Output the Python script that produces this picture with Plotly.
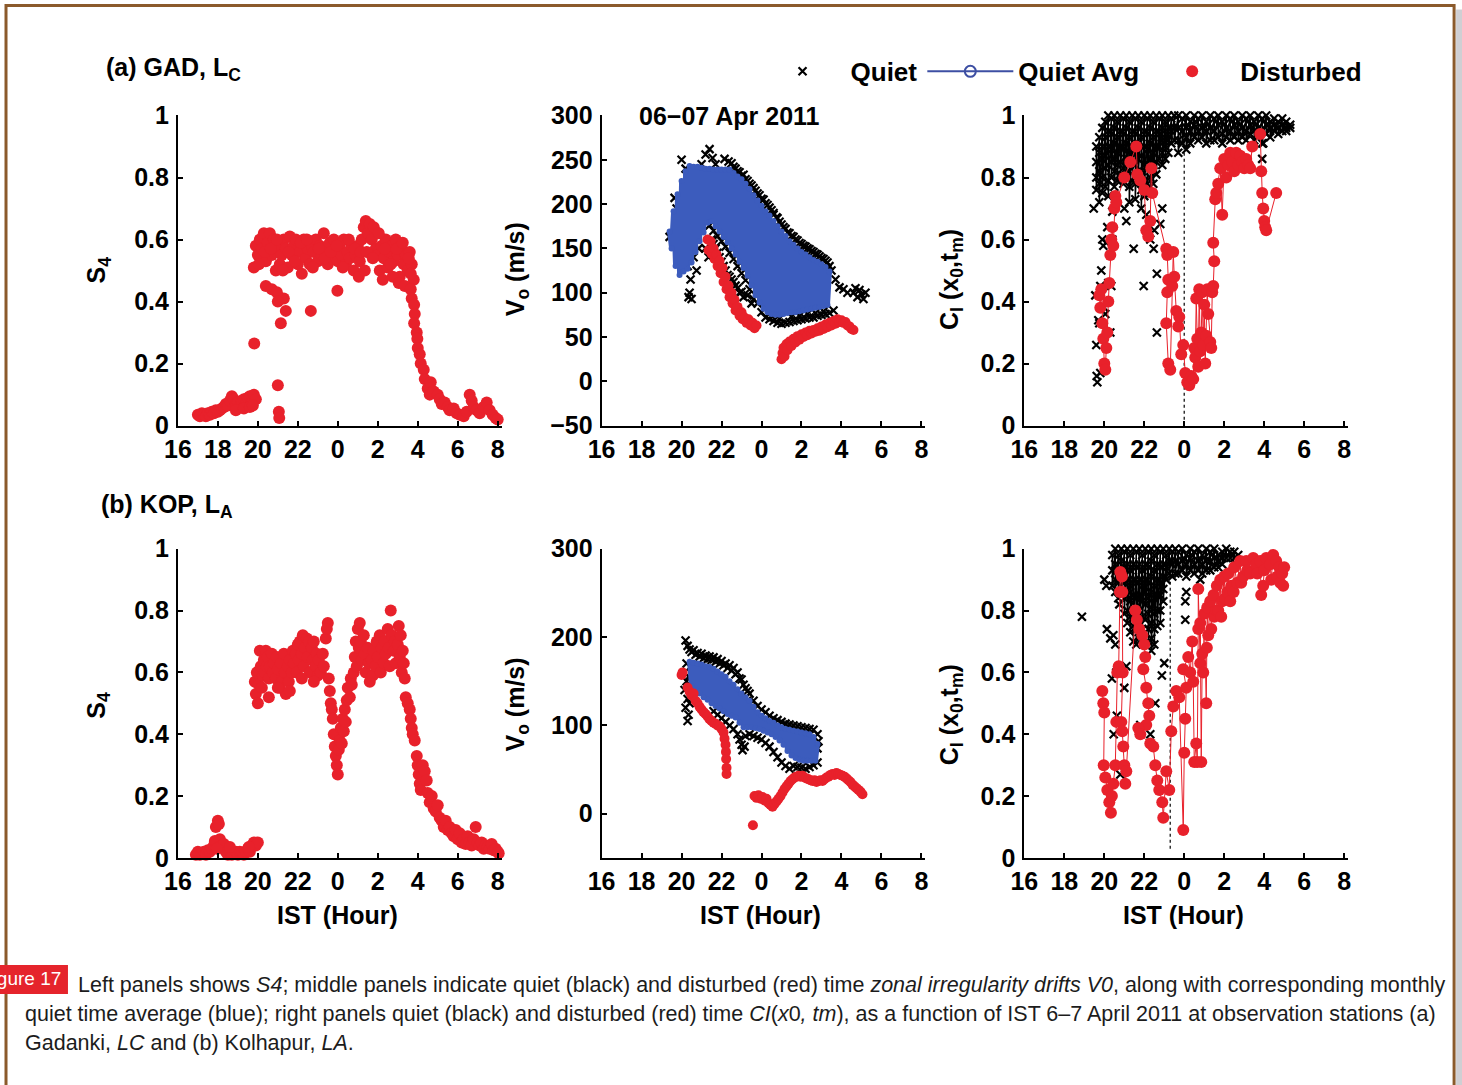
import plotly.graph_objects as go

W, H = 1462, 1085

# IST hour axis: the evening of 6 Apr runs 16-24, the early hours of 7 Apr continue as 24-32
hour_ticks = [16, 18, 20, 22, 24, 26, 28, 30, 32]
hour_labels = ["16", "18", "20", "22", "0", "2", "4", "6", "8"]
unit_ticks = [0, 0.2, 0.4, 0.6, 0.8, 1]
unit_labels = ["0", "0.2", "0.4", "0.6", "0.8", "1"]
drift_ticks_a = [-50, 0, 50, 100, 150, 200, 250, 300]
drift_labels_a = ["\u221250", "0", "50", "100", "150", "200", "250", "300"]
drift_ticks_b = [0, 100, 200, 300]
drift_labels_b = ["0", "100", "200", "300"]

# ---------------- (a) Gadanki ----------------
# S4, disturbed night (IST hour, S4)
s4_gad = [
    (17.0, .035), (17.1, .03), (17.2, .04), (17.3, .035), (17.4, .03), (17.5, .04), (17.6, .035),
    (17.7, .045), (17.8, .04), (17.9, .05), (18.0, .045), (18.1, .05), (18.2, .055), (18.3, .06),
    (18.4, .07), (18.5, .065), (18.6, .08), (18.7, .095), (18.8, .085), (18.9, .07), (19.0, .075),
    (19.1, .06), (19.2, .08), (19.3, .085), (19.4, .07), (19.5, .09), (19.6, .095), (19.7, .075),
    (19.8, .1), (19.9, .085), (18.9, .05), (19.3, .055), (19.6, .06), (19.75, .065),
    (19.82, .265), (21.0, .13), (21.05, .045), (21.07, .025), (21.15, .33), (21.4, .37), (21.3, .41),
    (20.4, .45), (20.7, .44), (20.95, .43), (19.8, .51), (22.65, .37), (23.98, .435), (21.0, .4),
    (19.9, .58), (20.0, .55), (20.1, .6), (20.2, .57), (20.3, .62), (20.4, .53), (20.5, .59),
    (20.6, .62), (20.7, .55), (20.8, .6), (20.9, .5), (21.0, .57), (21.1, .52), (21.2, .55),
    (21.3, .6), (21.4, .57), (21.5, .51), (21.6, .61), (21.7, .55), (21.8, .58), (21.9, .6),
    (22.0, .52), (22.1, .56), (22.2, .49), (22.3, .6), (22.4, .54), (22.5, .57), (22.6, .52),
    (22.7, .58), (22.8, .56), (22.9, .6), (23.0, .53), (23.1, .58), (23.2, .55), (23.3, .62),
    (23.4, .57), (23.5, .52), (23.6, .59), (23.7, .55), (23.8, .6), (23.9, .56), (24.0, .53),
    (24.1, .58), (24.2, .55), (24.3, .6), (24.4, .52), (24.5, .56), (24.6, .54), (24.7, .58),
    (24.8, .5), (24.9, .55), (25.0, .58), (25.1, .53), (25.2, .6), (25.3, .64), (25.4, .66),
    (25.5, .62), (25.6, .65), (25.7, .6), (25.8, .64), (25.9, .57), (26.0, .55), (26.1, .5),
    (26.2, .58), (26.3, .54), (26.4, .6), (26.5, .51), (26.6, .56), (26.7, .58), (26.8, .53),
    (26.9, .6), (27.0, .55), (27.1, .48), (27.2, .57), (27.3, .52), (27.4, .55), (27.5, .5),
    (27.6, .56), (27.7, .52), (27.8, .47),
    (20.05, .52), (20.35, .56), (20.65, .57), (20.95, .6), (21.25, .5), (21.55, .56), (21.85, .53),
    (22.15, .59), (22.45, .6), (22.75, .51), (23.05, .57), (23.35, .54), (23.65, .56), (23.95, .58),
    (24.25, .51), (24.55, .6), (24.85, .57), (25.15, .56), (25.45, .56), (25.75, .54), (26.05, .62),
    (26.35, .57), (26.65, .52), (26.95, .57), (27.25, .59), (27.55, .54), (27.65, .49), (25.05, .48),
    (25.35, .5), (26.25, .47), (26.75, .48), (27.05, .46), (27.35, .45),
    (27.65, .44), (27.7, .41), (27.82, .39), (27.85, .36), (27.82, .33), (27.95, .3), (27.98, .28),
    (28.0, .25), (28.1, .23), (28.15, .2), (28.3, .18), (28.35, .15), (28.5, .12), (28.65, .14),
    (28.6, .1), (28.8, .11), (29.0, .1), (29.1, .085), (29.2, .07), (29.35, .075), (29.5, .06),
    (29.6, .05), (29.8, .055), (29.95, .04), (30.1, .035), (30.3, .03), (30.45, .045), (30.6, .1),
    (30.7, .08), (30.8, .06), (30.95, .05), (31.1, .04), (31.3, .06), (31.45, .075), (31.6, .05),
    (31.75, .035), (31.9, .025), (32.0, .02),
]

# zonal drift V0 (m/s), quiet days
vo_gad_quiet = [
    (19.4, 163), (19.65, 207), (19.75, 195), (19.9, 175), (20.0, 250), (20.05, 150), (20.2, 240),
    (20.3, 130), (20.35, 95), (20.4, 100), (20.45, 115), (20.5, 93), (20.6, 140), (20.75, 125),
    (20.85, 150), (21.0, 245), (21.2, 256), (21.4, 262), (21.55, 252), (21.7, 245), (22.15, 251),
    (22.35, 248), (22.5, 246), (22.7, 240), (22.9, 236), (23.1, 233), (23.3, 226), (23.5, 221),
    (23.7, 215), (23.9, 210), (24.1, 205), (24.3, 199), (24.5, 193), (24.6, 190), (24.75, 185),
    (24.9, 180), (25.1, 174), (25.3, 168), (25.5, 164), (25.7, 160), (25.9, 156), (26.1, 153),
    (26.3, 150), (26.5, 147), (26.7, 144), (26.9, 141), (27.1, 138), (27.3, 134), (27.5, 125),
    (27.7, 115), (27.9, 106), (28.1, 104), (28.3, 100),
    (22.6, 242), (22.8, 237), (23.0, 232), (23.2, 228), (23.4, 223), (23.6, 218), (23.8, 212),
    (24.0, 206), (24.2, 201), (24.4, 196), (24.6, 188), (24.8, 184), (25.0, 177), (25.2, 172),
    (25.4, 167), (25.6, 163), (25.8, 159), (26.0, 155), (26.2, 152), (26.4, 149), (26.6, 146),
    (26.8, 143), (27.0, 139), (27.2, 136), (27.4, 130),
    (28.6, 100), (28.7, 105), (28.8, 95), (28.9, 103), (29.0, 98), (29.1, 93), (29.2, 100),
    (27.6, 80), (27.4, 77), (27.2, 76), (27.0, 75), (26.8, 74), (26.6, 72), (26.4, 72), (26.2, 71),
    (26.0, 70), (25.8, 69), (25.6, 68), (25.4, 67), (25.2, 66), (25.0, 65), (24.8, 66), (24.6, 68),
    (24.4, 70), (24.2, 72), (24.0, 78), (23.8, 88), (23.6, 93), (23.4, 104), (23.2, 114),
    (23.0, 122), (22.8, 130), (22.6, 138), (22.4, 145), (22.2, 152), (22.0, 158), (21.8, 164),
    (21.6, 170), (21.4, 176),
    (25.5, 73), (25.9, 74), (26.3, 76), (26.7, 77), (27.1, 79), (24.9, 71), (24.5, 74),
    (21.5, 160), (21.7, 150), (21.9, 140), (22.1, 130), (22.3, 120), (22.5, 115), (22.7, 108),
    (22.9, 100), (23.1, 95), (21.2, 150), (21.35, 140), (21.6, 155), (21.8, 145), (22.0, 135),
    (22.2, 125), (22.4, 118), (22.6, 112), (22.8, 105), (23.0, 101), (23.3, 97), (23.5, 88),
]

# monthly quiet-time average V0 (m/s)
qavg_gad_t = [
    19.4, 19.5, 19.6, 19.7, 19.8, 19.9, 20.0, 20.1, 20.2, 20.3, 20.4, 20.5, 20.6, 20.7, 20.8, 20.9,
    21.0, 21.1, 21.2, 21.3, 21.4, 21.5, 21.6, 21.7, 21.8, 21.9, 22.0, 22.1, 22.2, 22.3, 22.4, 22.5,
    22.6, 22.7, 22.8, 22.9, 23.0, 23.1, 23.2, 23.3, 23.4, 23.5, 23.6, 23.7, 23.8, 23.9, 24.0, 24.1,
    24.2, 24.3, 24.4, 24.5, 24.6, 24.7, 24.8, 24.9, 25.0, 25.1, 25.2, 25.3, 25.4, 25.5, 25.6, 25.7,
    25.8, 25.9, 26.0, 26.1, 26.2, 26.3, 26.4, 26.5, 26.6, 26.7, 26.8, 26.9, 27.0, 27.1, 27.2, 27.3,
    27.4,
]
qavg_gad_v = [
    169, 150, 192, 130, 211, 120, 226, 124, 237, 127, 243, 134, 242, 146, 242, 158,
    241, 168, 240, 179, 240, 181, 239, 175, 239, 169, 239, 163, 239, 157, 239, 150,
    235, 143, 231, 135, 228, 128, 223, 119, 217, 108, 210, 97, 204, 89, 198, 82,
    192, 78, 187, 76, 181, 75, 175, 75, 169, 76, 164, 77, 158, 78, 154, 78,
    150, 79, 146, 80, 143, 81, 140, 82, 137, 83, 135, 84, 132, 85, 129, 86,
    124,
]

# V0 (m/s), disturbed night
vo_gad_dist = [
    (21.3, 160), (21.35, 148), (21.45, 158), (21.5, 144), (21.6, 150), (21.65, 138), (21.75, 143),
    (21.8, 130), (21.9, 136), (21.95, 122), (22.05, 128), (22.1, 112), (22.2, 118), (22.25, 104),
    (22.35, 108), (22.4, 95), (22.5, 100), (22.55, 88), (22.65, 92), (22.7, 80), (22.8, 84),
    (22.9, 74), (23.0, 78), (23.05, 70), (23.15, 72), (23.25, 66), (23.35, 70), (23.45, 63),
    (23.55, 66), (23.65, 60), (23.75, 63),
    (25.0, 25), (25.05, 32), (25.1, 38), (25.15, 28), (25.25, 42), (25.3, 35), (25.4, 45),
    (25.5, 40), (25.6, 48), (25.7, 44), (25.8, 51), (25.9, 47), (26.0, 53), (26.1, 50), (26.2, 55),
    (26.3, 52), (26.4, 57), (26.5, 54), (26.6, 58), (26.7, 56), (26.8, 60), (26.9, 57), (27.0, 62),
    (27.1, 59), (27.2, 64), (27.3, 61), (27.4, 66), (27.5, 63), (27.6, 68), (27.7, 65), (27.8, 70),
    (27.9, 67), (28.0, 69), (28.1, 66), (28.2, 67), (28.3, 63), (28.4, 62), (28.5, 59), (28.6, 58),
]

# CI(x0,tm), quiet days: isolated samples, then columns of samples (hour, [values])
ci_gad_quiet = [
    (19.47, .70), (19.55, .42), (19.6, .26), (19.62, .16), (19.65, .14), (19.7, .34), (19.75, .33),
    (19.8, .17), (19.8, .45), (19.85, .5), (19.9, .6), (19.95, .58), (20.0, .38), (20.05, .36),
    (20.1, .59), (20.15, .64), (20.2, .46), (20.3, .3), (20.35, .45), (20.4, .69), (20.4, .6),
    (21.47, .57), (21.97, .45), (22.3, .6), (22.47, .57), (22.63, .49), (22.63, .3), (22.8, .65),
    (22.9, .7), (21.1, .66), (21.0, .7), (22.1, .68), (22.5, .63), (27.95, .91), (27.9, .86),
]
ci_gad_quiet_cols = [
    (19.6, [.90, .85, .80, .76]), (19.75, [.93, .88, .82, .78, .72]),
    (19.9, [.96, .90, .86, .80, .75]), (20.05, [.98, .93, .87, .83, .77]),
    (20.2, [1.0, .95, .90, .84, .79, .74]), (20.35, [.99, .94, .89, .85, .80]),
    (20.5, [1.0, .96, .91, .86, .82, .77]), (20.65, [.98, .93, .88, .84, .79]),
    (20.8, [1.0, .95, .90, .85, .81]), (20.95, [.99, .94, .89, .83, .78]),
    (21.1, [1.0, .96, .91, .86, .80]), (21.25, [.98, .93, .88, .82, .77, .72]),
    (21.4, [1.0, .95, .90, .85, .79]), (21.55, [.99, .94, .88, .84, .78, .73]),
    (21.7, [1.0, .96, .91, .86, .81]), (21.85, [.98, .93, .87, .82, .76, .70]),
    (22.0, [1.0, .95, .90, .84, .79, .74]), (22.15, [.99, .94, .89, .83, .78]),
    (22.3, [1.0, .96, .91, .86, .80, .75]), (22.45, [.98, .93, .88, .84, .78]),
    (22.6, [1.0, .95, .90, .85, .81]), (22.75, [.99, .94, .90, .86]),
    (22.9, [1.0, .96, .92, .88, .84]), (23.05, [.98, .94, .90, .86]),
    (23.2, [1.0, .96, .92, .88]), (23.35, [.99, .95, .91]), (23.5, [1.0, .96, .92]),
    (23.7, [1.0, .96, .92, .88]), (23.9, [.99, .95, .91]), (24.1, [1.0, .96, .93, .89]),
    (24.3, [.98, .95, .91]), (24.5, [1.0, .97, .93]), (24.7, [.99, .95, .92]),
    (24.9, [1.0, .96, .93]), (25.1, [.98, .95, .91]), (25.3, [1.0, .96, .92]),
    (25.5, [.99, .95, .92]), (25.7, [1.0, .97, .93]), (25.9, [.98, .94, .91]),
    (26.1, [1.0, .96, .93]), (26.3, [.99, .95, .92]), (26.5, [1.0, .97, .93]),
    (26.7, [.98, .95, .92]), (26.9, [1.0, .96, .93]), (27.1, [.99, .95, .92]),
    (27.3, [1.0, .97, .94]), (27.5, [.98, .95, .92]), (27.7, [1.0, .96, .93]),
    (27.9, [.99, .95, .91]), (28.1, [1.0, .97, .94]), (28.3, [.98, .96, .93]),
    (28.5, [.99, .97, .95]), (28.7, [.98, .96, .94]), (28.9, [.99, .97, .95]),
    (29.1, [.98, .96, .95]), (29.3, [.97, .96]),
]

# CI(x0,tm), disturbed night (in time order)
ci_gad_dist = [
    (19.75, .42), (19.8, .38), (19.85, .44), (19.9, .33), (19.95, .28), (20.0, .2), (20.05, .18),
    (20.1, .25), (20.15, .3), (20.2, .4), (20.25, .46), (20.3, .55), (20.35, .6), (20.4, .64),
    (20.45, .58), (20.5, .7), (20.55, .74), (20.6, .72),
    (21.0, .8), (21.3, .85), (21.6, .9), (21.65, .81), (21.8, .79), (22.0, .76), (22.1, .63),
    (22.2, .61), (22.3, .66), (22.35, .83), (22.4, .75),
    (23.1, .57), (23.15, .55), (23.2, .47), (23.15, .43), (23.1, .33), (23.2, .2), (23.3, .18),
    (23.4, .45), (23.45, .56), (23.5, .48), (23.6, .37), (23.7, .32), (23.75, .35), (23.85, .23),
    (23.95, .26), (24.05, .17), (24.15, .14), (24.25, .13), (24.35, .16), (24.45, .15), (24.5, .25),
    (24.55, .22), (24.6, .41), (24.65, .28), (24.7, .19), (24.75, .44), (24.8, .24), (24.85, .3),
    (24.9, .43), (24.95, .26), (25.0, .39), (25.05, .2), (25.1, .29), (25.15, .44), (25.2, .36),
    (25.3, .27), (25.35, .25), (25.4, .43), (25.45, .45), (25.5, .53), (25.45, .59), (25.55, .73),
    (25.6, .75), (25.7, .78),
    (25.8, .83), (25.9, .68), (26.0, .86), (26.1, .8), (26.2, .84), (26.3, .88), (26.4, .85),
    (26.5, .82), (26.6, .88), (26.7, .84), (26.8, .87), (26.9, .85), (27.0, .83), (27.1, .86),
    (27.2, .84), (27.3, .83), (27.4, .9),
    (27.8, .94), (27.85, .82), (27.9, .75), (27.95, .7), (28.0, .66), (28.05, .64), (28.1, .63),
    (28.6, .75),
]
ci_gad_marker_hour = 24.0

# ---------------- (b) Kolhapur ----------------
s4_kop = [
    (16.9, .01), (17.0, .02), (17.1, .01), (17.2, .015), (17.3, .02), (17.4, .01), (17.5, .025),
    (17.6, .02), (17.7, .03), (17.8, .04), (17.85, .055), (17.9, .1), (18.0, .12), (18.05, .11),
    (18.1, .06), (18.2, .04), (18.3, .03), (18.4, .02), (18.5, .01), (18.6, .02), (18.7, .01),
    (18.8, .015), (18.9, .02), (19.0, .01), (19.1, .02), (19.2, .015), (19.3, .01), (19.4, .02),
    (19.5, .03), (19.6, .02), (19.7, .04), (19.8, .05), (19.9, .04), (20.0, .05), (18.3, .045),
    (17.95, .03), (18.6, .035), (19.55, .035),
    (19.85, .57), (19.9, .53), (19.95, .6), (20.0, .5), (20.05, .56), (20.1, .67), (20.15, .62),
    (20.2, .55), (20.25, .59), (20.3, .64), (20.35, .6), (20.4, .67), (20.45, .62), (20.5, .65),
    (20.55, .58), (20.6, .62), (20.7, .66), (20.75, .6), (20.8, .63), (20.9, .58), (20.95, .65),
    (21.0, .61), (21.1, .55), (21.15, .63), (21.2, .57), (21.3, .66), (21.35, .6), (21.4, .53),
    (21.5, .62), (21.55, .57), (21.6, .64), (21.7, .6), (21.75, .67), (21.8, .63), (21.9, .66),
    (21.95, .6), (22.0, .69), (22.05, .64), (22.1, .7), (22.2, .66), (22.25, .72), (22.3, .62),
    (22.35, .68), (22.45, .71), (22.5, .65), (22.55, .7), (22.6, .6), (22.7, .68), (22.75, .64),
    (22.8, .7), (22.9, .62), (22.95, .66), (23.0, .59), (23.05, .64), (23.15, .6), (23.25, .66),
    (23.3, .62), (23.4, .71), (23.5, .76), (23.45, .74), (20.55, .52), (21.0, .55), (21.6, .54),
    (22.2, .58), (22.8, .57),
    (23.55, .58), (23.6, .54), (23.65, .5), (23.7, .48), (23.75, .45), (23.8, .4), (23.85, .36),
    (23.9, .33), (23.95, .3), (24.0, .27), (24.05, .35), (24.1, .38), (24.15, .42), (24.2, .37),
    (24.25, .45), (24.3, .41), (24.35, .48), (24.4, .44), (24.45, .51), (24.5, .55), (24.6, .52),
    (24.65, .58), (24.7, .56), (24.8, .6),
    (24.85, .65), (24.9, .7), (24.95, .62), (25.0, .74), (25.05, .68), (25.1, .76), (25.15, .7),
    (25.2, .64), (25.3, .72), (25.35, .66), (25.4, .6), (25.5, .68), (25.55, .63), (25.6, .57),
    (25.7, .64), (25.75, .59), (25.8, .67), (25.9, .62), (25.95, .7), (26.0, .65), (26.1, .72),
    (26.15, .6), (26.2, .68), (26.3, .63), (26.35, .7), (26.4, .66), (26.5, .74), (26.55, .68),
    (26.6, .62), (26.65, .8), (26.7, .72), (26.8, .67), (26.85, .7), (26.9, .63), (27.0, .69),
    (27.05, .75), (27.1, .65), (27.15, .72), (27.2, .6), (27.25, .67), (27.3, .63), (27.35, .58),
    (27.4, .52), (27.5, .5), (27.6, .48), (27.65, .45), (27.7, .42), (27.75, .4), (27.85, .38),
    (27.95, .33), (28.0, .3), (28.05, .27), (28.1, .24), (28.15, .22), (28.25, .3), (28.35, .28),
    (28.45, .25), (28.5, .21), (28.6, .18), (28.7, .2), (28.8, .16), (28.9, .15), (29.0, .17),
    (29.1, .13), (29.2, .12), (29.3, .1), (29.4, .12), (29.5, .09), (29.6, .1), (29.7, .08),
    (29.8, .07), (29.9, .09), (30.0, .06), (30.1, .08), (30.2, .05), (30.3, .06), (30.4, .045),
    (30.5, .07), (30.6, .05), (30.7, .04), (30.8, .06), (30.9, .1), (31.0, .05), (31.1, .04),
    (31.2, .05), (31.3, .03), (31.4, .04), (31.5, .035), (31.6, .03), (31.7, .045), (31.8, .025),
    (31.9, .03), (32.0, .02), (32.05, .015),
]

vo_kop_quiet = [
    (20.2, 196), (20.3, 190), (20.4, 186), (20.5, 183), (20.6, 185), (20.7, 180), (20.8, 182),
    (20.9, 178), (21.0, 181), (21.1, 176), (21.2, 179), (21.3, 175), (21.4, 178), (21.5, 174),
    (21.6, 177), (21.7, 172), (21.8, 175), (21.9, 170), (22.0, 173), (22.1, 168), (22.2, 170),
    (22.3, 165), (22.4, 168), (22.5, 162), (22.6, 165), (22.7, 158), (22.8, 160), (22.9, 153),
    (23.0, 152), (23.1, 146), (23.2, 142), (23.3, 139), (23.4, 136), (23.6, 128), (23.8, 122),
    (24.0, 118), (24.2, 115), (24.4, 111), (24.6, 108), (24.8, 106), (25.0, 104), (25.2, 102),
    (25.4, 101), (25.6, 100), (25.8, 99), (26.0, 98), (26.2, 97), (26.4, 96), (26.6, 95),
    (26.8, 90), (26.85, 82), (26.8, 74),
    (20.15, 160), (20.25, 150), (20.15, 140), (20.3, 130), (20.2, 120), (20.35, 112), (20.3, 105),
    (20.25, 170), (20.35, 155), (20.4, 125),
    (21.6, 116), (21.8, 112), (22.0, 108), (22.2, 104), (22.4, 100), (22.6, 96), (22.8, 90),
    (22.9, 84), (23.0, 78), (23.05, 72), (23.15, 76), (23.2, 88), (23.4, 90), (23.6, 88),
    (23.8, 86), (24.0, 84), (24.2, 80), (24.4, 76), (24.6, 70), (24.8, 64), (25.0, 58), (25.2, 54),
    (25.4, 51), (25.6, 54), (25.8, 53), (26.0, 52), (26.2, 51), (26.4, 53), (26.6, 55), (26.8, 58),
]

qavg_kop_t = [
    20.4, 20.5, 20.6, 20.7, 20.8, 20.9, 21.0, 21.1, 21.2, 21.3, 21.4, 21.5, 21.6, 21.7, 21.8, 21.9,
    22.0, 22.1, 22.2, 22.3, 22.4, 22.5, 22.6, 22.7, 22.8, 22.9, 23.0, 23.1, 23.2, 23.3, 23.4, 23.5,
    23.6, 23.7, 23.8, 23.9, 24.0, 24.1, 24.2, 24.3, 24.4, 24.5, 24.6, 24.7, 24.8, 24.9, 25.0, 25.1,
    25.2, 25.3, 25.4, 25.5, 25.6, 25.7, 25.8, 25.9, 26.0, 26.1, 26.2, 26.3, 26.4, 26.5, 26.6, 26.7,
    26.8,
]
qavg_kop_v = [
    172, 144, 171, 140, 170, 136, 169, 132, 167, 129, 166, 125, 164, 122, 161, 119,
    158, 116, 155, 113, 150, 111, 146, 109, 141, 103, 136, 98, 132, 98, 128, 98,
    121, 97, 115, 96, 111, 94, 108, 92, 105, 90, 103, 87, 100, 83, 98, 78,
    96, 71, 95, 66, 94, 63, 93, 61, 92, 60, 91, 60, 90, 60, 87, 60,
    79,
]

vo_kop_dist = [
    (20.0, 157), (20.05, 160), (20.3, 143), (20.4, 138), (20.5, 134), (20.6, 136), (20.7, 128),
    (20.8, 125), (20.9, 121), (21.0, 118), (21.1, 115), (21.2, 113), (21.3, 110), (21.4, 107),
    (21.5, 105), (21.6, 103), (21.7, 102), (21.8, 100), (21.9, 99), (22.0, 96), (22.1, 92),
    (22.15, 85), (22.2, 78), (22.22, 70), (22.23, 62), (22.25, 52), (22.25, 45),
    (23.57, -13), (23.65, 20), (23.75, 18), (23.85, 21), (23.95, 17), (24.05, 19), (24.15, 15),
    (24.25, 17), (24.35, 12), (24.45, 10), (24.55, 8), (24.65, 11), (24.75, 14), (24.85, 17),
    (24.95, 20), (25.05, 24), (25.15, 28), (25.25, 31), (25.35, 34), (25.45, 37), (25.55, 39),
    (25.65, 41), (25.75, 42), (25.85, 43), (25.95, 42), (26.05, 43), (26.15, 41), (26.25, 40),
    (26.35, 39), (26.45, 38), (26.55, 37), (26.65, 38), (26.75, 36), (26.85, 37), (26.95, 38),
    (27.05, 37), (27.15, 39), (27.25, 41), (27.35, 42), (27.45, 44), (27.55, 45), (27.65, 44),
    (27.75, 46), (27.85, 45), (27.95, 44), (28.05, 43), (28.15, 42), (28.25, 40), (28.35, 38),
    (28.45, 36), (28.55, 33), (28.65, 31), (28.75, 29), (28.85, 27), (28.95, 25), (29.05, 22),
]

ci_kop_quiet = [
    (18.88, .78), (20.0, .9), (20.1, .88), (20.13, .74), (20.3, .71), (20.38, .58), (20.63, .46),
    (20.47, .4), (20.72, .3), (20.8, .27), (20.6, .6), (20.75, .82), (21.1, .62), (21.0, .55),
    (21.8, .43), (22.3, .4), (22.55, .5), (22.88, .59), (23.0, .63), (24.05, .83), (24.05, .77),
    (24.1, .86), (24.8, .9), (20.45, .72), (20.55, .69),
]
ci_kop_quiet_cols = [
    (20.4, [.98, .93, .88]), (20.55, [1.0, .95, .9, .86]), (20.7, [.98, .93, .89, .84]),
    (20.85, [1.0, .96, .91, .86]), (21.0, [.99, .94, .89, .84, .79]),
    (21.15, [1.0, .95, .9, .85, .8, .76]), (21.3, [.98, .93, .88, .83, .78, .73]),
    (21.45, [1.0, .95, .9, .85, .8, .75, .7]), (21.6, [.99, .94, .89, .84, .79, .74, .69]),
    (21.75, [1.0, .95, .9, .85, .8, .76, .71]), (21.9, [.98, .93, .88, .83, .78, .74]),
    (22.05, [1.0, .95, .9, .86, .82, .77]), (22.2, [.99, .94, .89, .84, .79, .74, .7]),
    (22.35, [1.0, .96, .91, .86, .81, .76, .71, .67]), (22.5, [.98, .93, .88, .84, .79, .74, .69]),
    (22.65, [1.0, .95, .9, .85, .8, .75]), (22.8, [.99, .94, .89, .85, .8, .76]),
    (22.95, [1.0, .95, .91, .87, .83]), (23.1, [.98, .94, .9]), (23.25, [1.0, .96, .92]),
    (23.4, [.99, .95, .91]), (23.55, [1.0, .96, .92]),
    (23.7, [.99, .95, .92]), (23.9, [1.0, .96, .93]), (24.1, [.98, .95, .91]),
    (24.3, [1.0, .97, .93]), (24.5, [.99, .95, .92]), (24.7, [1.0, .96, .93]),
    (24.9, [.98, .95, .92]), (25.1, [1.0, .96, .93]), (25.3, [.99, .96, .93]),
    (25.5, [1.0, .97, .94]), (25.7, [.98, .96, .94]), (25.9, [.99, .97, .95]),
    (26.1, [1.0, .97]), (26.3, [.99, .97]), (26.5, [.99, .97]), (26.7, [.98, .96]),
]

ci_kop_dist = [
    (19.9, .54), (19.95, .5), (20.0, .47), (19.97, .3), (20.05, .26), (20.15, .22), (20.25, .18),
    (20.33, .146), (20.38, .2), (20.45, .24), (20.55, .3), (20.6, .44), (20.65, .6), (20.72, .62),
    (20.78, .86), (20.8, .925), (20.88, .91), (20.9, .86), (20.92, .6), (20.85, .44), (20.9, .41),
    (20.95, .36), (21.0, .3), (21.05, .24), (21.1, .28),
    (21.55, .8), (21.63, .77), (21.75, .74), (21.9, .72), (22.0, .69), (22.05, .65), (21.95, .61),
    (22.1, .55), (22.2, .5), (22.25, .46), (22.1, .43), (21.7, .42), (21.8, .4), (22.3, .37),
    (22.45, .36), (22.55, .3), (22.65, .25), (22.75, .22), (22.9, .18), (22.95, .13), (23.1, .28),
    (23.25, .22), (23.35, .41), (23.45, .49), (23.6, .54), (23.75, .52),
    (23.95, .09), (24.0, .34), (24.05, .45), (24.1, .55), (23.95, .61), (24.2, .65), (24.3, .6),
    (24.4, .7), (24.45, .57), (24.5, .31), (24.6, .37), (24.65, .31), (24.7, .74), (24.7, .87),
    (24.8, .63), (24.8, .76), (24.85, .31), (24.9, .66), (24.95, .6), (25.0, .79), (25.1, .5),
    (25.13, .68), (25.15, .81), (25.2, .72), (25.3, .83), (25.35, .74), (25.47, .85), (25.5, .78),
    (25.6, .8), (25.63, .88), (25.7, .8), (25.8, .9), (25.85, .78), (25.9, .83), (26.0, .91),
    (26.05, .84), (26.15, .86), (26.2, .92), (26.3, .83), (26.35, .88), (26.47, .86), (26.5, .94),
    (26.65, .89), (26.8, .96), (26.85, .89), (26.95, .91), (27.1, .96), (27.15, .93), (27.3, .92),
    (27.45, .97), (27.6, .95), (27.65, .92), (27.8, .96), (27.85, .85), (27.95, .88), (28.0, .93),
    (28.1, .97), (28.3, .95), (28.35, .9), (28.45, .98), (28.6, .96), (28.65, .91), (28.75, .94),
    (28.8, .89), (28.9, .92), (28.95, .88), (29.0, .94),
]
ci_kop_marker_hour = 23.3

# ---------------- styling ----------------
RED = "#E8212B"
BLUE = "#3C5CBD"
FONT = "Liberation Sans, Arial, Helvetica, sans-serif"
bold = dict(family=FONT, size=25, color="black", weight="bold")
legend_font = dict(family=FONT, size=26, color="black", weight="bold")

# page placement: positions below are given in page pixels and mapped to paper fractions
SX, OX = 0.989, 13.0
SY, OY = 0.9736, 14.6


def px_x(p):
    return (p - OX) / SX / W


def px_y(p):
    return 1 - (p - OY) / SY / H


def unzip(pts):
    return [p[0] for p in pts], [p[1] for p in pts]


def flatten_cols(cols):
    return [(t, v) for t, vs in cols for v in vs]


def quiet_trace(pts, ax, legend=False, joined=False):
    t, v = unzip(pts)
    return go.Scatter(x=t, y=v, xaxis=f"x{ax}", yaxis=f"y{ax}",
                      mode="lines+markers" if joined else "markers", name="Quiet",
                      legendgroup="q", showlegend=legend, legendrank=1, cliponaxis=False,
                      line=dict(color="black", width=1.5),
                      marker=dict(symbol="x-thin", size=8, color="black",
                                  line=dict(width=2.2, color="black")))


def avg_trace(t, v, ax):
    return go.Scatter(x=t, y=v, xaxis=f"x{ax}", yaxis=f"y{ax}", mode="lines+markers",
                      name="Quiet Avg", legendgroup="a", showlegend=False, cliponaxis=False,
                      line=dict(color=BLUE, width=5),
                      marker=dict(symbol="circle", size=6, color=BLUE))


def dist_trace(pts, ax, legend=False, lines=False, size=12):
    t, v = unzip(pts)
    return go.Scatter(x=t, y=v, xaxis=f"x{ax}", yaxis=f"y{ax}",
                      mode="lines+markers" if lines else "markers", name="Disturbed",
                      legendgroup="d", showlegend=legend, legendrank=3, cliponaxis=False,
                      line=dict(color=RED, width=1),
                      marker=dict(symbol="circle", size=size, color=RED))


fig = go.Figure()
# row (a)
fig.add_trace(dist_trace(s4_gad, 1, legend=True))
fig.add_trace(quiet_trace(vo_gad_quiet, 2, legend=True))
fig.add_trace(avg_trace(qavg_gad_t, qavg_gad_v, 2))
fig.add_trace(dist_trace(vo_gad_dist, 2, size=10))
fig.add_trace(quiet_trace(flatten_cols(ci_gad_quiet_cols), 3, joined=True))
fig.add_trace(quiet_trace(ci_gad_quiet, 3))
fig.add_trace(dist_trace(ci_gad_dist, 3, lines=True))
# row (b)
fig.add_trace(dist_trace(s4_kop, 4))
fig.add_trace(quiet_trace(vo_kop_quiet, 5))
fig.add_trace(avg_trace(qavg_kop_t, qavg_kop_v, 5))
fig.add_trace(dist_trace(vo_kop_dist, 5, size=10))
fig.add_trace(quiet_trace(flatten_cols(ci_kop_quiet_cols), 6, joined=True))
fig.add_trace(quiet_trace(ci_kop_quiet, 6))
fig.add_trace(dist_trace(ci_kop_dist, 6, lines=True))
# legend key for the monthly average (thin line with an open circle)
fig.add_trace(go.Scatter(x=[None], y=[None], xaxis="x2", yaxis="y2", mode="lines+markers",
                         name="Quiet Avg", legendgroup="a", legendrank=2,
                         line=dict(color="#3D4FA3", width=2),
                         marker=dict(symbol="circle-open", size=11, color="#3D4FA3",
                                     line=dict(width=2))))

cols_px = [(177, 501), (601, 925), (1024, 1348)]
rows_px = [(116, 426), (549, 858)]
y_specs = [
    ([0, 1], unit_ticks, unit_labels),
    ([-50, 300], drift_ticks_a, drift_labels_a),
    ([0, 1], unit_ticks, unit_labels),
    ([0, 1], unit_ticks, unit_labels),
    ([-50, 300], drift_ticks_b, drift_labels_b),
    ([0, 1], unit_ticks, unit_labels),
]

layout = dict(
    width=W, height=H, margin=dict(l=0, r=0, t=0, b=0),
    paper_bgcolor="white", plot_bgcolor="white",
    font=bold,
    legend=dict(orientation="h", x=px_x(754), xanchor="left", y=px_y(72), yanchor="middle",
                font=legend_font, bgcolor="rgba(0,0,0,0)", itemwidth=86, traceorder="normal"),
)
for k in range(1, 7):
    r, c = (k - 1) // 3, (k - 1) % 3
    x0, x1 = cols_px[c]
    top, bot = rows_px[r]
    yr, yt, yl = y_specs[k - 1]
    common = dict(showline=True, linecolor="black", linewidth=2, ticks="inside", ticklen=5,
                  tickwidth=2, tickcolor="black", showgrid=False, zeroline=False,
                  tickfont=bold, mirror=False, fixedrange=True)
    layout[f"xaxis{k}"] = dict(domain=[px_x(x0), px_x(x1)], anchor=f"y{k}", range=[16, 32.2],
                               tickmode="array", tickvals=hour_ticks, ticktext=hour_labels,
                               ticklabelstandoff=0, **common)
    layout[f"yaxis{k}"] = dict(domain=[px_y(bot), px_y(top)], anchor=f"x{k}", range=yr,
                               tickmode="array", tickvals=yt, ticktext=yl,
                               ticklabelstandoff=2, **common)
fig.update_layout(**layout)


def note(text, x, y, xanchor="center", angle=0, font=bold, yanchor="middle"):
    fig.add_annotation(text=text, x=px_x(x), y=px_y(y), xref="paper", yref="paper",
                       xanchor=xanchor, yanchor=yanchor, showarrow=False, textangle=angle,
                       font=font)


# panel labels and axis titles
note("(a) GAD, L<sub>C</sub>", 103, 70, xanchor="left")
note("(b) KOP, L<sub>A</sub>", 98, 506, xanchor="left")
note("06\u221207 Apr 2011", 729, 117)
for yc in (270, 705):
    note("S<sub>4</sub>", 97, yc, angle=-90)
    note("V<sub>o</sub> (m/s)", 516, yc, angle=-90)
    note("C<sub>I</sub> (x<sub>0</sub>,t<sub>m</sub>)", 950, yc + 10, angle=-90)
for xc in (337, 760, 1183):
    note("IST (Hour)", xc, 915)

# caption
cap = dict(family=FONT, size=21.5, color="#1c1c1c", weight="normal")
note("Left panels shows <i>S4</i>; middle panels indicate quiet (black) and disturbed (red) time "
     "<i>zonal irregularity drifts V0</i>, along with corresponding monthly", 75, 985,
     xanchor="left", font=cap)
note("quiet time average (blue); right panels quiet (black) and disturbed (red) time "
     "<i>CI</i>(<i>x</i>0<i>, tm</i>), as a function of IST 6\u20137 April 2011 at observation "
     "stations (a)", 22, 1014, xanchor="left", font=cap)
note("Gadanki, <i>LC</i> and (b) Kolhapur, <i>LA</i>.", 22, 1043, xanchor="left", font=cap)

shapes = [
    # page frame and its shadow
    dict(type="rect", xref="paper", yref="paper", x0=px_x(1456), x1=px_x(1475), y0=px_y(1110),
         y1=px_y(10), fillcolor="#cfcfd3", line=dict(width=0), layer="below"),
    dict(type="rect", xref="paper", yref="paper", x0=px_x(5), x1=px_x(1454), y0=px_y(1110),
         y1=px_y(6), line=dict(color="#8B5A2B", width=3), fillcolor="rgba(0,0,0,0)"),
    # figure tag
    dict(type="rect", xref="paper", yref="paper", x0=px_x(-30), x1=px_x(67), y0=px_y(994),
         y1=px_y(965), fillcolor="#E5242C", line=dict(width=0)),
    # midnight markers in the CI panels
    dict(type="line", xref="x3", yref="y3", x0=ci_gad_marker_hour, x1=ci_gad_marker_hour,
         y0=0, y1=1, line=dict(color="#333", width=1.5, dash="dot"), layer="below"),
    dict(type="line", xref="x6", yref="y6", x0=ci_kop_marker_hour, x1=ci_kop_marker_hour,
         y0=0.03, y1=0.95, line=dict(color="#333", width=1.5, dash="dot"), layer="below"),
]
fig.update_layout(shapes=shapes)
note("Figure 17", 62, 979, xanchor="right",
     font=dict(family=FONT, size=19, color="white", weight="normal"))

fig.write_html("out.html")
